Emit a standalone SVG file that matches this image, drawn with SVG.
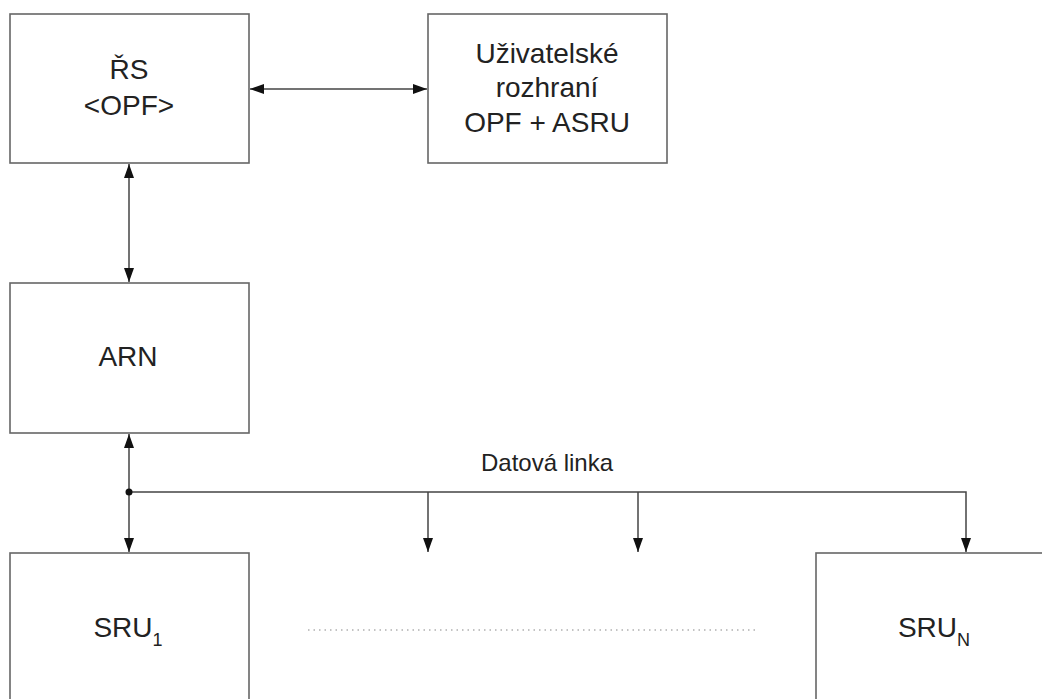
<svg xmlns="http://www.w3.org/2000/svg" width="1042" height="699" viewBox="0 0 1042 699">
<style>
.box{fill:#fff;stroke:#666;stroke-width:1.6}
.ln{fill:none;stroke:#444;stroke-width:1.5}
.t{font-family:"Liberation Sans",Arial,sans-serif;font-size:28px;fill:#222;text-anchor:middle}
.sub{font-size:18px}
.s{font-family:"Liberation Sans",Arial,sans-serif;font-size:24px;fill:#222;text-anchor:middle}
</style>
<defs>
<marker id="ah" viewBox="0 0 14 10" refX="14" refY="5" markerWidth="14" markerHeight="10" markerUnits="userSpaceOnUse" orient="auto-start-reverse">
<path d="M0,0 L14,5 L0,10 Z" fill="#111"/>
</marker>
</defs>
<rect width="1042" height="699" fill="#fff"/>
<g id="rs"><rect class="box" x="10" y="14" width="239" height="149"/>
<text class="t" x="129" y="79">ŘS</text><text class="t" x="129" y="115">&lt;OPF&gt;</text></g>
<g id="ui"><rect class="box" x="428" y="14" width="239" height="149"/>
<text class="t" x="547" y="63">Uživatelské</text><text class="t" x="547" y="97">rozhraní</text><text class="t" x="547" y="132">OPF + ASRU</text></g>
<g id="arn"><rect class="box" x="10" y="283" width="239" height="150"/>
<text class="t" x="128" y="366">ARN</text></g>
<g id="sru1"><rect class="box" x="10" y="553" width="239" height="160"/>
<text class="t" x="128" y="637">SRU<tspan class="sub" dy="9">1</tspan></text></g>
<g id="srun"><rect class="box" x="816" y="553" width="240" height="160"/>
<text class="t" x="934" y="637">SRU<tspan class="sub" dy="9">N</tspan></text></g>
<g id="connectors">
<line class="ln" x1="250" y1="89" x2="427" y2="89" marker-start="url(#ah)" marker-end="url(#ah)"/>
<line class="ln" x1="129" y1="164" x2="129" y2="282" marker-start="url(#ah)" marker-end="url(#ah)"/>
<line class="ln" x1="129" y1="434" x2="129" y2="552" marker-start="url(#ah)" marker-end="url(#ah)"/>
<polyline class="ln" points="129,492 966,492 966,552" marker-end="url(#ah)"/>
<line class="ln" x1="428" y1="492" x2="428" y2="552" marker-end="url(#ah)"/>
<line class="ln" x1="638" y1="492" x2="638" y2="552" marker-end="url(#ah)"/>
<circle cx="129" cy="492" r="3.5" fill="#111"/>
<text class="s" x="547" y="471">Datová linka</text>
<line x1="308" y1="630" x2="755" y2="630" stroke="#888" stroke-width="1.2" stroke-dasharray="1.5,4"/>
</g>
</svg>
